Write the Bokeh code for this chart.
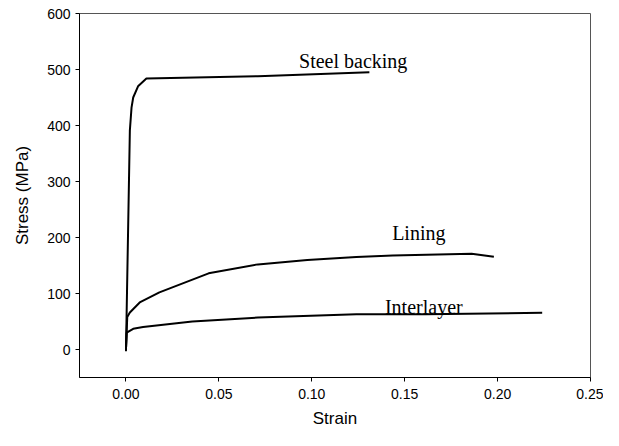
from bokeh.plotting import figure
from bokeh.models import Range1d, FixedTicker, PrintfTickFormatter
from bokeh.core.properties import value
from bokeh.embed import file_html
from bokeh.resources import INLINE

# Steel backing curve
steel_strain = [0.0, 0.0021, 0.003, 0.0039, 0.0065, 0.011, 0.071, 0.131]
steel_stress = [-3, 391, 432, 450, 470, 484, 488, 495]

# Lining curve
lining_strain = [0.0, 0.0007, 0.0021, 0.0074, 0.018, 0.0445, 0.071, 0.0976, 0.124, 0.1435, 0.186, 0.198]
lining_stress = [0, 58, 66, 84, 102, 136, 152, 160, 165, 168, 171, 165.5]

# Interlayer curve
inter_strain = [0.0, 0.0004, 0.0039, 0.0092, 0.0357, 0.071, 0.124, 0.161, 0.224]
inter_stress = [0, 30, 37, 40, 50, 57, 63, 63, 65.5]

# Labels
label_text = ["Steel backing", "Lining", "Interlayer"]
label_x = [0.1223, 0.1576, 0.1603]
label_y = [515.6, 208, 76.6]

x_ticks = [0.0, 0.05, 0.10, 0.15, 0.20, 0.25]
y_ticks = [0, 100, 200, 300, 400, 500, 600]

p = figure(width=603, height=430, output_backend="svg", toolbar_location=None,
           x_range=Range1d(-0.025, 0.25), y_range=Range1d(-50, 600),
           min_border_left=79, min_border_right=13, min_border_top=13, min_border_bottom=52)

p.xgrid.visible = False
p.ygrid.visible = False
p.outline_line_color = "#555555"
p.outline_line_width = 1
p.background_fill_color = "white"
p.border_fill_color = "white"

for ax in (p.xaxis[0], p.yaxis[0]):
    ax.axis_line_color = "black"
    ax.axis_line_width = 1
    ax.major_tick_line_color = "black"
    ax.major_tick_in = 0
    ax.major_tick_out = 4
    ax.minor_tick_line_color = None
    ax.major_label_text_font = "Liberation Sans"
    ax.major_label_text_font_size = "14px"
    ax.major_label_text_color = "black"
    ax.axis_label_text_font = "Liberation Sans"
    ax.axis_label_text_font_size = "17px"
    ax.axis_label_text_font_style = "normal"
    ax.axis_label_text_color = "black"

p.xaxis.ticker = FixedTicker(ticks=x_ticks)
p.yaxis.ticker = FixedTicker(ticks=y_ticks)
p.xaxis.formatter = PrintfTickFormatter(format="%.2f")
p.xaxis.axis_label = "Strain"
p.yaxis.axis_label = "Stress (MPa)"
p.xaxis.major_label_standoff = 7
p.xaxis.axis_label_standoff = 7
p.yaxis.major_label_standoff = 5
p.yaxis.axis_label_standoff = 12

p.line(steel_strain, steel_stress, line_color="black", line_width=2)
p.line(lining_strain, lining_stress, line_color="black", line_width=2)
p.line(inter_strain, inter_stress, line_color="black", line_width=2)

p.text(x=label_x, y=label_y, text=label_text, text_font=value("Liberation Serif"),
       text_font_size="20px", text_align="center", text_baseline="alphabetic",
       text_color="black")

open("out.html", "w").write(file_html(p, INLINE))
